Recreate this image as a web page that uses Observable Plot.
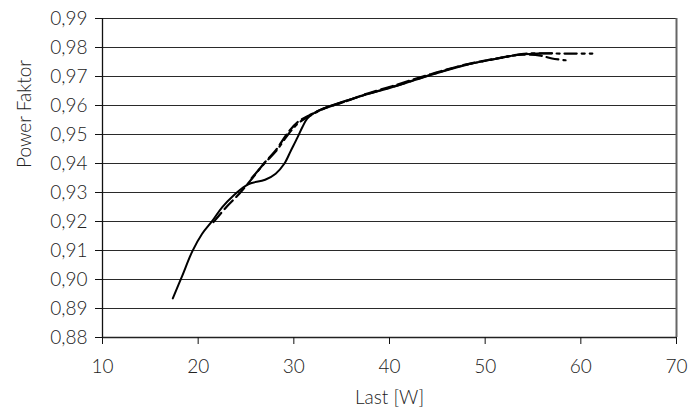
<!DOCTYPE html>
<html>
<head>
<meta charset="utf-8">
<script src="https://cdn.jsdelivr.net/npm/d3@7"></script>
<script src="https://cdn.jsdelivr.net/npm/@observablehq/plot@0.6"></script>
<style>
  html, body { margin: 0; padding: 0; background: #fff; }
  #chart svg { display: block; }
</style>
</head>
<body>
<div id="chart"></div>
<script>
const xTicks = [10, 20, 30, 40, 50, 60, 70];
const yTicks = [0.88, 0.89, 0.90, 0.91, 0.92, 0.93, 0.94, 0.95, 0.96, 0.97, 0.98, 0.99];

const solidX = [17.35, 18.3, 19.4, 20.4, 21.5, 22.5, 23.7, 25.0, 25.5, 27.0, 28.1, 29.0, 29.7, 30.4, 30.9, 31.4, 32.1, 33.5, 35.6, 37.3, 40.8, 44.3, 47.8, 51.3, 53.7, 55.5, 57.0];
const solidY = [0.8935, 0.9010, 0.9098, 0.9157, 0.9203, 0.9249, 0.9290, 0.9324, 0.9332, 0.9344, 0.9365, 0.9399, 0.9445, 0.9491, 0.9526, 0.9555, 0.9574, 0.9595, 0.9618, 0.9635, 0.9668, 0.9705, 0.9738, 0.9762, 0.9776, 0.9779, 0.9780];

const dashX = [21.6, 23.0, 24.3, 25.7, 27.0, 28.1, 29.3, 30.4, 31.6, 33.0, 35.0, 37.3, 40.8, 44.3, 47.8, 51.3, 53.7, 55.8, 57.0, 58.4];
const dashY = [0.9198, 0.9252, 0.9296, 0.9351, 0.9405, 0.9445, 0.9503, 0.9543, 0.9566, 0.9588, 0.9610, 0.9637, 0.9672, 0.9708, 0.9740, 0.9763, 0.9775, 0.9772, 0.9762, 0.9756];

const dashDotX = [25.6, 27.0, 28.2, 29.4, 30.5, 31.7, 33.2, 35.2, 37.4, 40.9, 44.4, 47.9, 51.3, 53.8, 55.6, 58.2, 61.2];
const dashDotY = [0.9350, 0.9403, 0.9445, 0.9500, 0.9540, 0.9565, 0.9590, 0.9612, 0.9637, 0.9670, 0.9707, 0.9740, 0.9762, 0.9777, 0.9780, 0.9779, 0.9779];

const toRows = (xs, ys) => xs.map((x, i) => ({x, y: ys[i]}));
const solid = toRows(solidX, solidY);
const dashed = toRows(dashX, dashY);
const dashDot = toRows(dashDotX, dashDotY);

const fmtY = d => d3.format(".2f")(d).replace(".", ",");
const FS = 19;

const chart = Plot.plot({
  width: 689,
  height: 409,
  marginLeft: 102,
  marginRight: 13,
  marginTop: 18,
  marginBottom: 72,
  style: {fontFamily: "Lato, 'Noto Sans', sans-serif", fontSize: FS + "px", fontWeight: 300, color: "#222", background: "#fff"},
  x: {domain: [10, 70]},
  y: {domain: [0.88, 0.99]},
  marks: [
    Plot.gridY(yTicks, {stroke: "#2a2a2a", strokeOpacity: 1, strokeWidth: 1.2}),
    Plot.ruleX([70], {stroke: "#666", strokeWidth: 2}),
    Plot.ruleX([10], {stroke: "#111", strokeWidth: 1.3, y1: 0.88, y2: 0.99}),
    Plot.ruleY([0.88], {stroke: "#222", strokeWidth: 1.3}),
    Plot.axisY(yTicks, {tickSize: 7, tickPadding: 8, tickFormat: fmtY, stroke: "#111", fill: "#222", label: null, fontSize: FS, fontWeight: 300}),
    Plot.axisX(xTicks, {tickSize: 7, tickPadding: 15, stroke: "#111", fill: "#222", label: null, fontSize: FS, fontWeight: 300}),
    Plot.text(["Last [W]"], {frameAnchor: "bottom", dy: 66, fill: "#222", fontSize: FS, fontWeight: 300}),
    Plot.text(["Power Faktor"], {frameAnchor: "left", dx: -78, dy: -10, rotate: -90, fill: "#222", fontSize: FS, fontWeight: 300}),
    Plot.line(solid, {x: "x", y: "y", stroke: "#000", strokeWidth: 2, curve: "catmull-rom"}),
    Plot.line(dashed, {x: "x", y: "y", stroke: "#000", strokeWidth: 2.2, strokeDasharray: "12,5", curve: "catmull-rom"}),
    Plot.line(dashDot, {x: "x", y: "y", stroke: "#000", strokeWidth: 2.2, strokeDasharray: "12,5,3,5", curve: "catmull-rom"})
  ]
});
document.getElementById("chart").appendChild(chart);
</script>
</body>
</html>
